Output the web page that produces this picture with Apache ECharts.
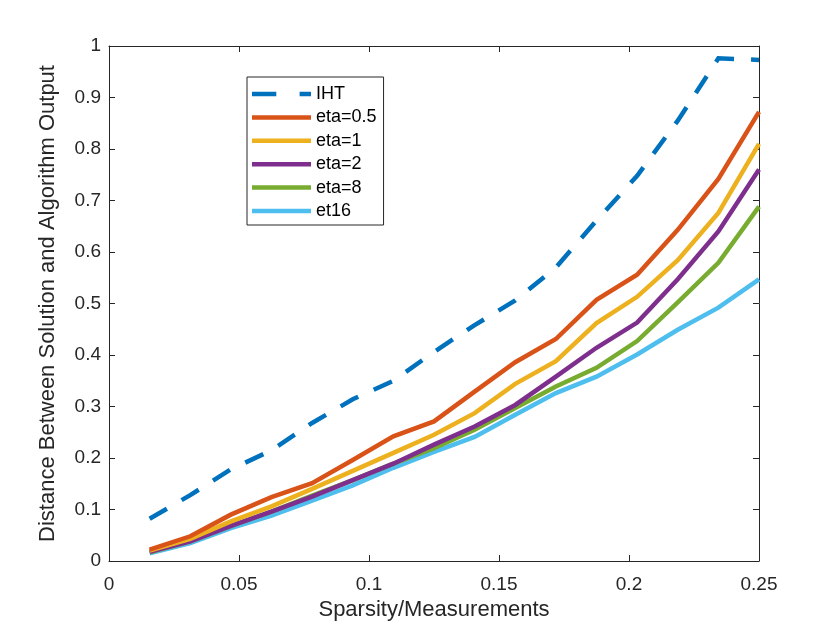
<!DOCTYPE html>
<html>
<head>
<meta charset="utf-8">
<script src="https://cdn.jsdelivr.net/npm/echarts@6/dist/echarts.min.js"></script>
<style>
html,body{margin:0;padding:0;background:#fff;}
#chart{width:840px;height:630px;}
</style>
</head>
<body>
<div id="chart"></div>
<script>
const sparsity = [0.015625, 0.03125, 0.046875, 0.0625, 0.078125, 0.09375, 0.109375, 0.125,
  0.140625, 0.15625, 0.171875, 0.1875, 0.203125, 0.21875, 0.234375, 0.25];
const seriesNames = ['IHT', 'eta=0.5', 'eta=1', 'eta=2', 'eta=8', 'et16'];
const iht    = [0.082, 0.128, 0.178, 0.215, 0.268, 0.314, 0.350, 0.406, 0.458, 0.506, 0.570, 0.661, 0.748, 0.855, 0.976, 0.973];
const eta05  = [0.022, 0.048, 0.090, 0.124, 0.151, 0.196, 0.242, 0.271, 0.329, 0.386, 0.431, 0.507, 0.556, 0.643, 0.742, 0.872];
const eta1   = [0.020, 0.043, 0.077, 0.106, 0.140, 0.175, 0.210, 0.245, 0.287, 0.344, 0.388, 0.462, 0.513, 0.584, 0.676, 0.810];
const eta2   = [0.018, 0.038, 0.068, 0.096, 0.125, 0.157, 0.189, 0.226, 0.261, 0.303, 0.358, 0.414, 0.463, 0.547, 0.640, 0.760];
const eta8   = [0.017, 0.038, 0.068, 0.096, 0.127, 0.157, 0.189, 0.219, 0.255, 0.297, 0.339, 0.375, 0.427, 0.502, 0.579, 0.688];
const et16   = [0.015, 0.035, 0.064, 0.088, 0.117, 0.147, 0.181, 0.212, 0.241, 0.284, 0.326, 0.358, 0.401, 0.449, 0.492, 0.547];
const xTickValues = [0, 0.05, 0.1, 0.15, 0.2, 0.25];
const yTickValues = [0, 0.1, 0.2, 0.3, 0.4, 0.5, 0.6, 0.7, 0.8, 0.9, 1];
const xLabel = 'Sparsity/Measurements';
const yLabel = 'Distance Between Solution and Algorithm Output';

const allValues = [iht, eta05, eta1, eta2, eta8, et16];
const colors = ['#0072BD', '#D95319', '#EDB120', '#7E2F8E', '#77AC30', '#4DBEEE'];
const axisColor = '#262626';
const font = 'Liberation Sans, Arial, Helvetica, sans-serif';

const solidIcon = 'path://M0,0 L59,0 L59,4.5 L0,4.5 Z';
const dashIcon = 'path://M0,0 L24.3,0 L24.3,4.5 L0,4.5 Z M47.6,0 L59,0 L59,4.5 L47.6,4.5 Z';

const chart = echarts.init(document.getElementById('chart'), null, {renderer: 'canvas'});

const series = seriesNames.map((name, i) => ({
  name: name,
  type: 'line',
  xAxisIndex: 0,
  yAxisIndex: 0,
  data: sparsity.map((x, j) => [x, allValues[i][j]]),
  symbol: 'none',
  showSymbol: false,
  animation: false,
  lineStyle: {
    color: colors[i],
    width: 4.5,
    type: i === 0 ? [20, 17] : 'solid',
    cap: 'butt',
    join: 'miter'
  },
  itemStyle: {color: colors[i]},
  z: 10 - i
}));

const baseAxis = {
  axisLine: {show: true, onZero: false, lineStyle: {color: axisColor, width: 1}},
  axisTick: {show: true, inside: true, length: 6, lineStyle: {color: axisColor, width: 1}},
  splitLine: {show: false}
};

chart.setOption({
  backgroundColor: '#ffffff',
  animation: false,
  color: colors,
  grid: {left: 109, right: 81, top: 46, bottom: 69, containLabel: false},
  legend: {
    show: true,
    orient: 'vertical',
    left: 247,
    top: 77,
    padding: [8, 7, 5, 5],
    itemWidth: 59,
    itemHeight: 4.5,
    itemGap: 5.4,
    itemTextGap: 5,
    borderColor: axisColor,
    borderWidth: 1,
    backgroundColor: '#ffffff',
    data: seriesNames.map((n, i) => ({name: n, icon: i === 0 ? dashIcon : solidIcon,
      itemStyle: {color: colors[i], borderWidth: 0}})),
    textStyle: {fontFamily: font, fontSize: 18, color: '#000', lineHeight: 18},
    selectedMode: false
  },
  xAxis: [
    Object.assign({}, baseAxis, {
      type: 'value', position: 'bottom', min: 0, max: 0.25, interval: 0.05,
      name: xLabel, nameLocation: 'middle', nameGap: 38,
      nameTextStyle: {fontFamily: font, fontSize: 22, color: axisColor},
      axisLabel: {show: true, margin: 14, fontFamily: font, fontSize: 19, color: axisColor,
        formatter: v => { const t = xTickValues.find(a => Math.abs(a - v) < 1e-9); return t === undefined ? '' : String(t); }}
    }),
    Object.assign({}, baseAxis, {
      type: 'value', position: 'top', min: 0, max: 0.25, interval: 0.05,
      axisLabel: {show: false}
    })
  ],
  yAxis: [
    Object.assign({}, baseAxis, {
      type: 'value', position: 'left', min: 0, max: 1, interval: 0.1,
      name: yLabel, nameLocation: 'middle', nameGap: 50, nameRotate: 90,
      nameTextStyle: {fontFamily: font, fontSize: 22, color: axisColor},
      axisLabel: {show: true, margin: 8, fontFamily: font, fontSize: 19, color: axisColor,
        formatter: v => { const t = yTickValues.find(a => Math.abs(a - v) < 1e-9); return t === undefined ? '' : String(t); }}
    }),
    Object.assign({}, baseAxis, {
      type: 'value', position: 'right', min: 0, max: 1, interval: 0.1,
      axisLabel: {show: false}
    })
  ],
  series: series
});
</script>
</body>
</html>
